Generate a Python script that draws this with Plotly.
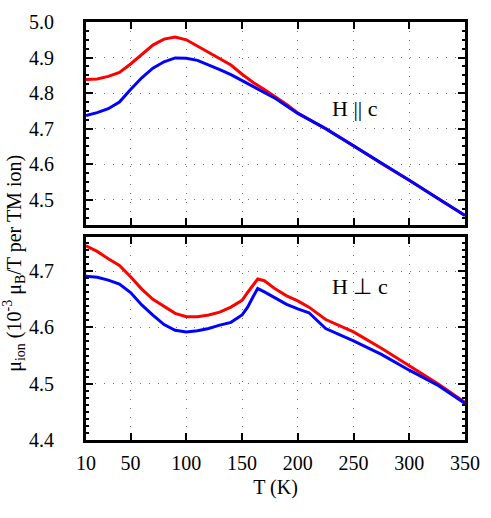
import plotly.graph_objects as go
from plotly.subplots import make_subplots

# ---- data: top panel (H || c) ----
T_par = [10, 20, 30, 40, 50, 60, 70, 80, 90, 100, 110, 120, 130, 140, 150,
         160, 170, 180, 190, 200, 225, 250, 275, 300, 325, 350]
red_par = [4.838, 4.840, 4.847, 4.858, 4.882, 4.909, 4.935, 4.952, 4.958, 4.950,
           4.932, 4.915, 4.898, 4.879, 4.853, 4.830, 4.810, 4.790, 4.768, 4.744,
           4.700, 4.652, 4.602, 4.555, 4.505, 4.456]
blue_par = [4.737, 4.745, 4.756, 4.775, 4.810, 4.843, 4.870, 4.888, 4.899, 4.898,
            4.892, 4.880, 4.866, 4.852, 4.835, 4.818, 4.802, 4.785, 4.764, 4.743,
            4.700, 4.652, 4.602, 4.555, 4.505, 4.456]

# ---- data: bottom panel (H perp c) ----
T_perp = [10, 20, 30, 40, 50, 60, 70, 80, 90, 100, 110, 120, 130, 140, 150,
          155, 160, 164, 170, 180, 190, 200, 210, 225, 250, 275, 300, 325, 350]
red_perp = [4.745, 4.735, 4.722, 4.710, 4.690, 4.668, 4.650, 4.638, 4.625, 4.619,
            4.619, 4.622, 4.627, 4.636, 4.648, 4.662, 4.676, 4.686, 4.683, 4.668,
            4.656, 4.647, 4.636, 4.614, 4.592, 4.563, 4.532, 4.501, 4.467]
blue_perp = [4.691, 4.689, 4.684, 4.677, 4.662, 4.640, 4.622, 4.605, 4.595, 4.592,
             4.594, 4.598, 4.604, 4.609, 4.622, 4.636, 4.655, 4.669, 4.663, 4.652,
             4.641, 4.633, 4.626, 4.598, 4.576, 4.552, 4.524, 4.498, 4.465]

x_ticks = [10, 50, 100, 150, 200, 250, 300, 350]
y_ticks_top = [4.5, 4.6, 4.7, 4.8, 4.9, 5.0]
y_ticks_bottom = [4.4, 4.5, 4.6, 4.7]

RED = "#ff0000"
BLUE = "#0000ff"
FONT = "Liberation Serif"
PAD = "\u00a0"

fig = make_subplots(rows=2, cols=1, shared_xaxes=False, vertical_spacing=13 / 429)

for T, r, b, row in [(T_par, red_par, blue_par, 1), (T_perp, red_perp, blue_perp, 2)]:
    fig.add_trace(go.Scatter(x=T, y=r, mode="lines", line=dict(color=RED, width=3),
                             showlegend=False), row=row, col=1)
    fig.add_trace(go.Scatter(x=T, y=b, mode="lines", line=dict(color=BLUE, width=3),
                             showlegend=False), row=row, col=1)

common_x = dict(range=[10, 350], tickvals=x_ticks, ticks="inside", ticklen=7,
                tickwidth=1.5, tickcolor="black", showline=True, linecolor="black",
                linewidth=3, mirror="allticks", showgrid=True, gridcolor="#777777",
                griddash="1px,8px", gridwidth=1, zeroline=False)
common_y = dict(ticks="inside", ticklen=7, tickwidth=1.5, tickcolor="black",
                showline=True, linecolor="black", linewidth=3, mirror="allticks",
                showgrid=True, gridcolor="#777777", griddash="1px,8px", gridwidth=1,
                zeroline=False, ticklabelstandoff=20,
                tickfont=dict(family=FONT, size=20, color="black"))

fig.update_xaxes(**common_x, showticklabels=False, row=1, col=1)
fig.update_xaxes(**common_x, showticklabels=True, ticklabelstandoff=3,
                 tickfont=dict(family=FONT, size=20, color="black"),
                 title=dict(text="T (K)", font=dict(family=FONT, size=20, color="black"),
                            standoff=7),
                 row=2, col=1)
fig.update_yaxes(**common_y, range=[4.43, 5.0], tickvals=y_ticks_top,
                 ticktext=[f"{v:.1f}{PAD}" for v in y_ticks_top],
                 minor=dict(dtick=0.025, ticks="inside", ticklen=3, tickcolor="black",
                            showgrid=False),
                 row=1, col=1)
fig.update_yaxes(**common_y, range=[4.4, 4.76], tickvals=y_ticks_bottom,
                 ticktext=[f"{v:.1f}{PAD}" for v in y_ticks_bottom],
                 minor=dict(dtick=0.0125, ticks="inside", ticklen=3, tickcolor="black",
                            showgrid=False),
                 row=2, col=1)

fig.add_annotation(xref="x", yref="y", x=229, y=4.756, text="H || c", showarrow=False,
                   xanchor="left", yanchor="middle",
                   font=dict(family=FONT, size=22, color="black"))
fig.add_annotation(xref="x2", yref="y2", x=229, y=4.672, text="H \u22a5 c", showarrow=False,
                   xanchor="left", yanchor="middle",
                   font=dict(family=FONT, size=22, color="black"))

fig.add_annotation(xref="paper", yref="paper", x=-0.19, y=0.424, textangle=-90,
                   xanchor="center", yanchor="middle",
                   text="\u03bc<sub>ion</sub> (10<sup>-3</sup> \u03bc<sub>B</sub>/T per TM ion)",
                   showarrow=False, font=dict(family=FONT, size=20, color="black"))

fig.update_layout(width=491, height=518, margin=dict(l=86, r=16, t=11, b=78),
                  plot_bgcolor="white", paper_bgcolor="white",
                  font=dict(family=FONT, size=20, color="black"))

fig.write_html("out.html", config={"displayModeBar": False},
               post_script="document.body.style.margin='0';"
                           "document.body.style.overflow='hidden';")
